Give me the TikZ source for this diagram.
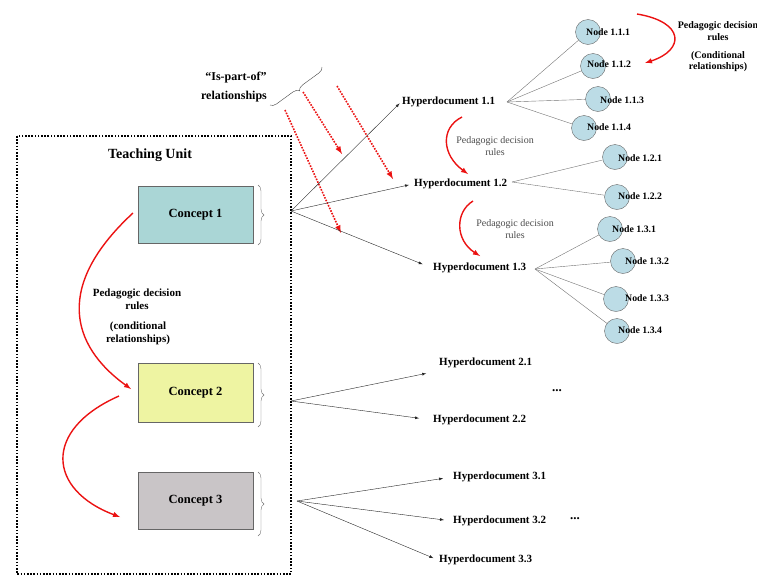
\documentclass[tikz,border=0pt]{standalone}
\usepackage{fontspec}
\setmainfont{Liberation Serif}
\usetikzlibrary{arrows,calc}
\usetikzlibrary{positioning,decorations.pathreplacing}
\definecolor{conceptA}{RGB}{170,214,214}
\definecolor{conceptB}{RGB}{238,244,162}
\definecolor{conceptC}{RGB}{201,197,199}
\definecolor{nodeblue}{RGB}{188,220,230}
\definecolor{rulered}{RGB}{235,18,18}

\begin{document}
\begin{tikzpicture}[x=1pt,y=-1pt,
  concept/.style={draw=black!60,line width=0.9pt,minimum width=115pt,minimum height=57pt,inner sep=0pt,font=\fontsize{12.5}{14}\selectfont\bfseries},
  hdoc/.style={anchor=west,inner sep=1pt,font=\fontsize{11}{12}\selectfont\bfseries},
  circ/.style={circle,draw=black!60,fill=nodeblue,minimum size=25pt,inner sep=0pt},
  nlab/.style={anchor=west,inner sep=0pt,font=\fontsize{9.8}{11}\selectfont\bfseries},
  boldtxt/.style={align=center,inner sep=0pt,font=\fontsize{11}{12.5}\selectfont\bfseries},
  greytxt/.style={align=center,inner sep=0pt,text=black!70,font=\fontsize{10}{11.5}\selectfont},
  rule/.style={->,>=latex,rulered,line width=1.4pt},
  partof/.style={->,>=latex,rulered,line width=1.6pt,dash pattern=on 1.6pt off 1.3pt},
  link/.style={->,>=latex,black!85},
  branch/.style={black!55},
  bracket/.style={decorate,decoration={brace,amplitude=6pt},black!55}]
\useasboundingbox (0,0) rectangle (757,576);

% teaching unit frame
\draw[line width=1.6pt,dash pattern=on 1.6pt off 1.6pt] (17,136) rectangle (291,574);
\node (tu) at (150,155) [font=\fontsize{14}{16}\selectfont\bfseries] {Teaching Unit};

% concepts
\node[concept,fill=conceptA,minimum height=57pt] (c1) at (195.5,214.5) {Concept 1};
\node[concept,fill=conceptB,minimum height=59pt] (c2) at (195.5,392.5) {Concept 2};
\node[concept,fill=conceptC,minimum height=57pt] (c3) at (195.5,500.5) {Concept 3};
\draw[bracket] (258,185) -- (258,245);
\draw[bracket] (258,363) -- (258,427);
\draw[bracket] (258,472) -- (258,536);
\coordinate (c1r) at (291,211);
\coordinate (c2r) at (291,401);
\coordinate (c3r) at (297,501);

% rules between concepts
\coordinate (r1s) at (133,213);
\coordinate (r1e) at (131,389);
\coordinate (r2s) at (119,396);
\coordinate (r2e) at (120,517);
\draw[rule] (r1s) .. controls (55,285) and (70,345) .. (r1e);
\draw[rule] (r2s) .. controls (42,430) and (48,490) .. (r2e);
\node[boldtxt] (pdr) at (137,299) {Pedagogic decision\\rules};
\node[boldtxt] (cond) at (138,333.5) {(conditional\\relationships)};

% is-part-of
\node (ipo) at (236,78) [font=\fontsize{12}{14}\selectfont\bfseries] {``Is-part-of''};
\node (rel) at (234,97) [font=\fontsize{12}{14}\selectfont\bfseries] {relationships};
\draw[bracket,black!75] (322,67) -- (270,105);
\coordinate (p1s) at (285,110);
\coordinate (p1e) at (341,233);
\coordinate (p2s) at (303,92);
\coordinate (p2e) at (342,154);
\coordinate (p3s) at (337,86);
\coordinate (p3e) at (393,179);
\draw[partof] (p1s) -- (p1e);
\draw[partof] (p2s) -- (p2e);
\draw[partof] (p3s) -- (p3e);

% hyperdocuments
\node[hdoc] (hd11) at (401,102) {Hyperdocument 1.1};
\node[hdoc] (hd12) at (413,184) {Hyperdocument 1.2};
\node[hdoc] (hd13) at (432,268) {Hyperdocument 1.3};
\node[hdoc] (hd21) at (438,363) {Hyperdocument 2.1};
\node[hdoc] (hd22) at (432,420) {Hyperdocument 2.2};
\node[hdoc] (hd31) at (452,477) {Hyperdocument 3.1};
\node[hdoc] (hd32) at (452,521) {Hyperdocument 3.2};
\node[hdoc] (hd33) at (438,560) {Hyperdocument 3.3};
\node (dots2) at (557,391) [font=\fontsize{13}{14}\selectfont\bfseries] {...};
\node (dots3) at (575,519) [font=\fontsize{13}{14}\selectfont\bfseries] {...};
\draw[link,shorten >=2pt] (c1r) -- (hd11.west);
\draw[link,shorten >=4pt] (c1r) -- (hd12.west);
\draw[link,shorten >=10pt] (c1r) -- (hd13.west);
\draw[link,shorten >=12pt] (c2r) -- ($(hd21.west)+(0,8)$);
\draw[link,shorten >=13pt] (c2r) -- (hd22.west);
\draw[link,shorten >=9pt] (c3r) -- (hd31.west);
\draw[link,shorten >=8pt] (c3r) -- (hd32.west);
\draw[link,shorten >=5pt] (c3r) -- (hd33.west);

% rules between hyperdocuments
\coordinate (h1s) at (462,117);
\coordinate (h1e) at (468,174);
\coordinate (h2s) at (473,201);
\coordinate (h2e) at (480,256);
\draw[rule] (h1s) .. controls (440,128) and (442,155) .. (h1e);
\draw[rule] (h2s) .. controls (455,212) and (455,240) .. (h2e);
\node[greytxt] (pd1) at (495,146) {Pedagogic decision\\rules};
\node[greytxt] (pd2) at (515,229) {Pedagogic decision\\rules};

% nodes of hyperdocument 1.1
\coordinate (hd11r) at (507,102);
\node[circ] (n111) at (588,32) {};
\node[circ] (n112) at (593,66) {};
\node[circ] (n113) at (598,99) {};
\node[circ] (n114) at (584,128) {};
\draw[branch] (hd11r) -- (n111);
\draw[branch] (hd11r) -- (n112);
\draw[branch] (hd11r) -- (n113);
\draw[branch] (hd11r) -- (n114);
\node[nlab] (l111) at (586,32) {Node 1.1.1};
\node[nlab] (l112) at (587,64) {Node 1.1.2};
\node[nlab] (l113) at (600,100) {Node 1.1.3};
\node[nlab] (l114) at (587,127) {Node 1.1.4};

% nodes of hyperdocument 1.2
\coordinate (hd12r) at (512,182);
\node[circ] (n121) at (615,157) {};
\node[circ] (n122) at (617,197) {};
\draw[branch] (hd12r) -- (n121);
\draw[branch] (hd12r) -- (n122);
\node[nlab] (l121) at (618,158) {Node 1.2.1};
\node[nlab] (l122) at (618,196) {Node 1.2.2};

% nodes of hyperdocument 1.3
\coordinate (hd13r) at (535,269);
\node[circ] (n131) at (610,229) {};
\node[circ] (n132) at (623,261) {};
\node[circ] (n133) at (616,299) {};
\node[circ] (n134) at (617,331) {};
\draw[branch] (hd13r) -- (n131);
\draw[branch] (hd13r) -- (n132);
\draw[branch] (hd13r) -- (n133);
\draw[branch] (hd13r) -- (n134);
\node[nlab] (l131) at (612,229) {Node 1.3.1};
\node[nlab] (l132) at (625,261) {Node 1.3.2};
\node[nlab] (l133) at (625,298) {Node 1.3.3};
\node[nlab] (l134) at (618,330) {Node 1.3.4};

% rules between nodes
\coordinate (ns) at (637,14);
\coordinate (ne) at (645,63);
\draw[rule] (ns) .. controls (685,22) and (685,50) .. (ne);
\node[greytxt,text=black,font=\fontsize{10}{11.5}\selectfont\bfseries] (pdn) at (718,31) {Pedagogic decision\\rules};
\node[greytxt,text=black,font=\fontsize{10}{11.5}\selectfont\bfseries] (condn) at (718,61.5) {(Conditional\\relationships)};
\end{tikzpicture}
\end{document}
